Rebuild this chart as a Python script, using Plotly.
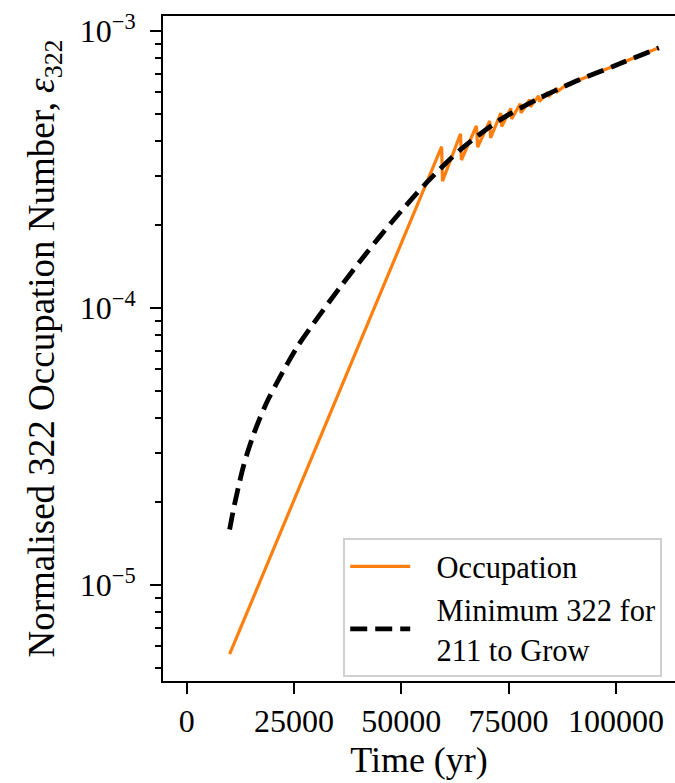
import plotly.graph_objects as go

# ---- data ----
occ_time = [10000, 59400, 59600, 63800, 64000, 67500, 67800, 70600, 70800,
            73200, 73400, 75500, 75700, 77700, 77900, 79900, 80100,
            82000, 82200, 84100, 84300, 86200, 86400, 88000, 90000,
            95000, 100000, 105000, 110000]
occ_value = [5.62e-6, 3.82e-4, 2.87e-4, 4.25e-4, 3.42e-4, 4.54e-4, 3.81e-4, 4.73e-4, 4.11e-4,
             5.05e-4, 4.52e-4, 5.25e-4, 4.81e-4, 5.46e-4, 5.06e-4, 5.65e-4, 5.32e-4,
             5.83e-4, 5.56e-4, 6.01e-4, 5.79e-4, 6.21e-4, 6.04e-4, 6.31e-4, 6.516e-4,
             7.015e-4, 7.516e-4, 8.09e-4, 8.69e-4]

min_time = [10000, 11000, 12000, 13000, 14000, 15500, 17000, 19000, 21000, 23500,
            26000, 31000, 36000, 42000, 48000, 56000, 64000, 73000, 82000, 90000,
            100000, 110000]
min_value = [1.585e-5, 1.905e-5, 2.239e-5, 2.600e-5, 2.951e-5, 3.467e-5, 3.981e-5, 4.677e-5,
             5.358e-5, 6.310e-5, 7.328e-5, 9.441e-5, 1.202e-4, 1.585e-4, 2.061e-4, 2.844e-4,
             3.750e-4, 4.775e-4, 5.702e-4, 6.516e-4, 7.516e-4, 8.690e-4]

x_ticks = [0, 25000, 50000, 75000, 100000]
x_tick_labels = ["0", "25000", "50000", "75000", "100000"]
y_ticks = [1e-5, 1e-4, 1e-3]
y_tick_labels = ["10<sup>−5</sup>", "10<sup>−4</sup>", "10<sup>−3</sup>"]
y_minor = [m * 10.0 ** e for e in (-6, -5, -4) for m in range(2, 10)]

FONT = "Liberation Serif, Times New Roman, serif"
PAD = "\u2002\u2009"

fig = go.Figure()
fig.add_trace(go.Scatter(
    x=occ_time, y=occ_value, mode="lines", name=PAD + "Occupation",
    line=dict(color="#ff7f0e", width=3.2),
))
fig.add_trace(go.Scatter(
    x=min_time, y=min_value, mode="lines",
    name=PAD + "Minimum 322 for<br>" + PAD + "211 to Grow",
    line=dict(color="black", width=4.8, dash="17px,8px", shape="spline", smoothing=0.8),
))

fig.update_layout(
    width=675, height=783,
    margin=dict(l=163, r=0, t=16, b=102),
    plot_bgcolor="white", paper_bgcolor="white",
    font=dict(family=FONT, color="black", size=32),
    showlegend=True,
    legend=dict(
        x=0.352, y=0.215, xanchor="left", yanchor="top",
        bgcolor="rgba(255,255,255,0.85)", bordercolor="#d0d0d0", borderwidth=2,
        font=dict(family=FONT, size=30.5, color="black"),
        itemwidth=60, tracegroupgap=2,
    ),
)

fig.update_xaxes(
    range=[-5520, 113770],
    showline=True, linecolor="black", linewidth=2, mirror=True,
    showgrid=False, zeroline=False,
    ticks="outside", ticklen=11, tickwidth=2, tickcolor="black",
    tickvals=x_ticks, ticktext=x_tick_labels,
    tickfont=dict(family=FONT, size=32, color="black"),
    title=dict(text="Time (yr)", font=dict(family=FONT, size=36, color="black"), standoff=8),
)

fig.update_yaxes(
    type="log", range=[-5.347, -2.946],
    showline=True, linecolor="black", linewidth=2, mirror=False,
    showgrid=False, zeroline=False,
    ticks="outside", ticklen=11, tickwidth=2, tickcolor="black",
    tickvals=y_ticks, ticktext=y_tick_labels,
    tickfont=dict(family=FONT, size=32, color="black"),
    ticklabelstandoff=8,
    minor=dict(tickvals=y_minor, ticks="outside", ticklen=6, tickwidth=1.5, tickcolor="black", showgrid=False),
    title=dict(text="Normalised 322 Occupation Number, <i>ε</i><sub>322</sub>",
               font=dict(family=FONT, size=37, color="black"), standoff=14),
)

fig.write_html("out.html")
